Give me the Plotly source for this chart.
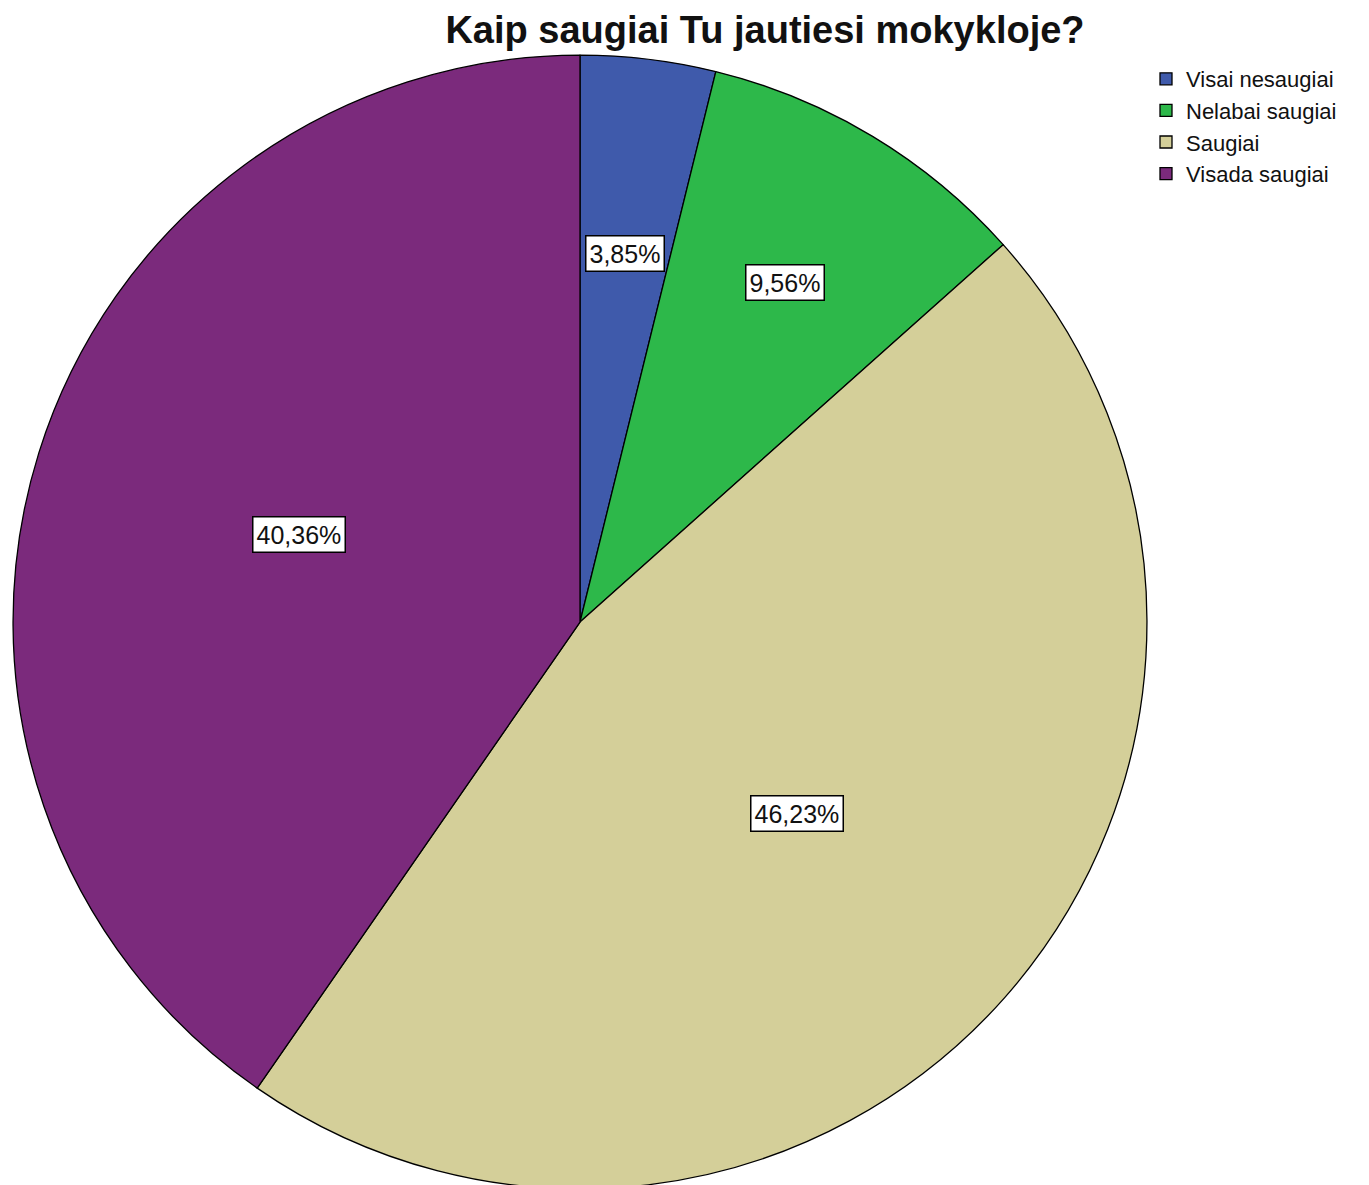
import math
import plotly.graph_objects as go

categories = ["Visai nesaugiai", "Nelabai saugiai", "Saugiai", "Visada saugiai"]
percentages = [3.85, 9.56, 46.23, 40.36]

colors = ["#3F5AAB", "#2DB84A", "#D4CF99", "#7B2A7C"]
label_radius_frac = [0.655, 0.70, 0.51, 0.52]

W, H = 1369, 1185
# the page body adds ~8px offset; the layout below compensates for it
dom_x = [0.00365, 0.8320]
dom_y = [0.0034, 0.9603]

fig = go.Figure(go.Pie(
    labels=categories,
    values=percentages,
    sort=False,
    direction="clockwise",
    rotation=0,
    marker=dict(colors=colors, line=dict(color="#000000", width=1.3)),
    textinfo="none",
    hoverinfo="label+percent",
    domain=dict(x=dom_x, y=dom_y),
))

# label annotations placed from data-derived slice midpoints
R = min((dom_x[1] - dom_x[0]) * W, (dom_y[1] - dom_y[0]) * H) / 2
cx = (dom_x[0] + dom_x[1]) / 2
cy = (dom_y[0] + dom_y[1]) / 2
total = sum(percentages)
cum = 0.0
annotations = []
for v, f in zip(percentages, label_radius_frac):
    mid = (cum + v / 2) / total * 2 * math.pi
    cum += v
    x = cx + R * f * math.sin(mid) / W
    y = cy + R * f * math.cos(mid) / H
    annotations.append(dict(
        x=x, y=y, xref="paper", yref="paper",
        xanchor="center", yanchor="middle",
        text=f"{v:.2f}%".replace(".", ","),
        showarrow=False,
        font=dict(family="Liberation Sans, Arial, sans-serif", size=25, color="#111111"),
        bgcolor="#FFFFFF", bordercolor="#000000", borderwidth=1.5, borderpad=3,
    ))

fig.update_layout(
    width=W, height=H,
    margin=dict(l=0, r=0, t=0, b=0),
    paper_bgcolor="#FFFFFF",
    plot_bgcolor="#FFFFFF",
    title=dict(
        text="<b>Kaip saugiai Tu jautiesi mokykloje?</b>",
        x=757 / W, xanchor="center",
        y=1 - 22 / H, yanchor="middle",
        font=dict(family="Liberation Sans, Arial, sans-serif", size=38, color="#111111"),
    ),
    legend=dict(
        x=1138 / W, xanchor="left",
        y=1 - 50 / H, yanchor="top",
        font=dict(family="Liberation Sans, Arial, sans-serif", size=22, color="#111111"),
        bgcolor="rgba(0,0,0,0)",
        itemwidth=30,
        tracegroupgap=0,
    ),
    annotations=annotations,
)

fig.write_html("out.html")
